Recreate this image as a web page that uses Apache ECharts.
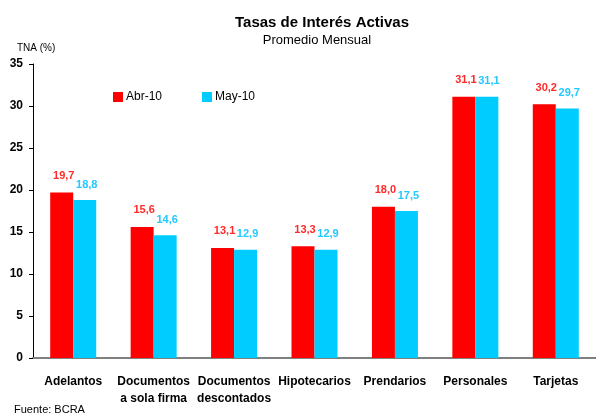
<!DOCTYPE html>
<html>
<head>
<meta charset="utf-8">
<script src="https://cdn.jsdelivr.net/npm/echarts@6/dist/echarts.min.js"></script>
<style>
  html, body { margin: 0; padding: 0; background: #fff; }
  #chart { width: 596px; height: 415px; }
</style>
</head>
<body>
<div id="chart"></div>
<script>
const categories = ['Adelantos', 'Documentos\na sola firma', 'Documentos\ndescontados', 'Hipotecarios', 'Prendarios', 'Personales', 'Tarjetas'];
const abr10 = [19.7, 15.6, 13.1, 13.3, 18.0, 31.1, 30.2];
const may10 = [18.8, 14.6, 12.9, 12.9, 17.5, 31.1, 29.7];

const font = '"Liberation Sans", Arial, sans-serif';
const chart = echarts.init(document.getElementById('chart'));

// etiqueta con coma decimal
const fmt = p => p.value.toFixed(1).replace('.', ',');

const option = {
    backgroundColor: '#fff',
    animation: false,
    textStyle: { fontFamily: font },
    title: [
        {
            text: 'Tasas de Interés Activas',
            left: 317, top: 10, textAlign: 'center',
            textStyle: { fontSize: 15, fontWeight: 'bold', color: '#000', fontFamily: font }
        },
        {
            text: 'Promedio Mensual',
            left: 312, top: 29, textAlign: 'center',
            textStyle: { fontSize: 13, fontWeight: 'normal', color: '#000', fontFamily: font }
        },
        {
            text: 'TNA (%)',
            left: 12, top: 38,
            textStyle: { fontSize: 10, fontWeight: 'normal', color: '#000', fontFamily: font }
        },
        {
            text: 'Fuente: BCRA',
            left: 9, top: 399,
            textStyle: { fontSize: 11, fontWeight: 'normal', color: '#000', fontFamily: font }
        }
    ],
    legend: {
        left: 108, top: 86,
        itemWidth: 10, itemHeight: 10, itemGap: 40,
        icon: 'rect',
        textStyle: { fontSize: 12, color: '#000', fontFamily: font, padding: [0, 0, 0, -2] },
        data: ['Abr-10', 'May-10']
    },
    grid: { left: 33, right: -4, top: 64, bottom: 57 },
    xAxis: {
        type: 'category',
        data: categories,
        axisLine: { lineStyle: { color: '#808080', width: 2 } },
        axisTick: { inside: true, length: 5, lineStyle: { color: '#000', width: 1 } },
        axisLabel: {
            interval: 0, margin: 15, lineHeight: 17,
            fontSize: 12, fontWeight: 'bold', color: '#000', fontFamily: font
        }
    },
    yAxis: {
        type: 'value',
        min: 0, max: 35, interval: 5,
        splitLine: { show: false },
        axisLine: { show: true, lineStyle: { color: '#000', width: 1 } },
        axisTick: { show: true, length: 4, lineStyle: { color: '#000' } },
        axisLabel: { fontSize: 12, fontWeight: 'bold', color: '#000', margin: 10, fontFamily: font }
    },
    series: [
        {
            name: 'Abr-10', type: 'bar', data: abr10,
            barWidth: 23, barGap: '0%',
            itemStyle: { color: '#ff0000' },
            label: {
                show: true, position: 'top', distance: 11, offset: [2, 0],
                formatter: fmt, fontSize: 11, fontWeight: 'bold', color: '#ff2a2a', fontFamily: font
            }
        },
        {
            name: 'May-10', type: 'bar', data: may10,
            barWidth: 23,
            itemStyle: { color: '#00ccff' },
            label: {
                show: true, position: 'top', distance: 10, offset: [2, 0],
                formatter: fmt, fontSize: 11, fontWeight: 'bold', color: '#22c8ff', fontFamily: font
            }
        }
    ]
};

chart.setOption(option);
</script>
</body>
</html>
